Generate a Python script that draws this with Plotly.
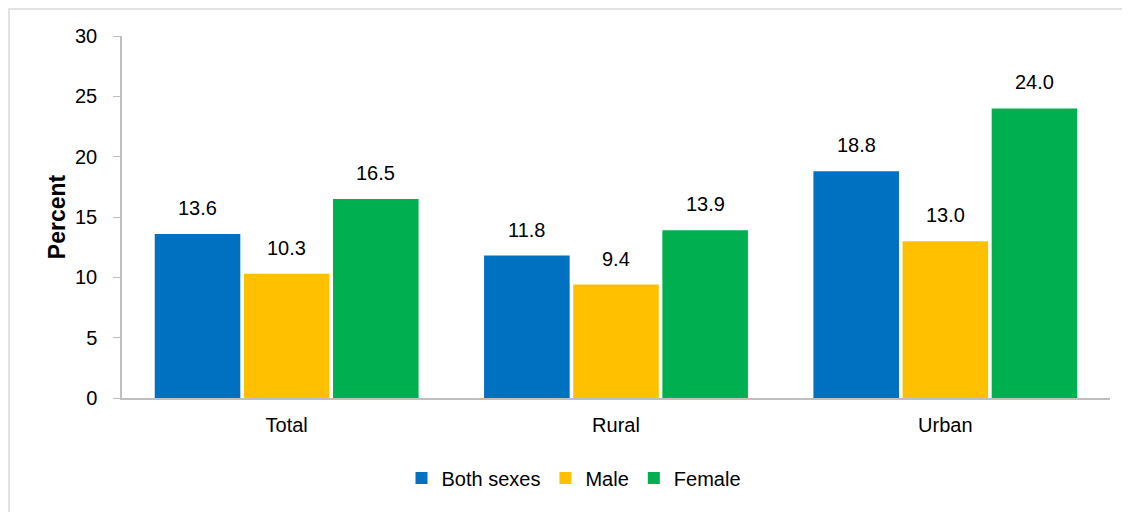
import plotly.graph_objects as go

categories = ["Total", "Rural", "Urban"]
both = [13.6, 11.8, 18.8]
male = [10.3, 9.4, 13.0]
female = [16.5, 13.9, 24.0]
series_names = ["Both sexes", "Male", "Female"]
colors = ["#0070C0", "#FFC000", "#00B050"]

FONT = "Liberation Sans, Arial, sans-serif"

W, H = 1130, 512
OFF = 8  # page body offset
# plot area in page pixels
PX0, PX1, PY0, PY1 = 122, 1110, 36, 398
L = PX0 - OFF
T = PY0 - OFF
pw = PX1 - PX0
ph = PY1 - PY0
R = W - L - pw
B = H - T - ph

BARGAP = 0.188
GROUPGAP = 0.04

def px(x):
    return (x - PX0) / pw

def py(y):
    return (PY1 - y) / ph

fig = go.Figure()
for name, vals, col in zip(series_names, [both, male, female], colors):
    fig.add_trace(go.Bar(
        x=categories, y=vals, name=name, marker_color=col,
        marker_line_width=0,
    ))

# value labels placed above bars (same x categories, shifted to each bar slot)
slot = pw / len(categories) * (1 - BARGAP) / len(series_names)
for j, vals in enumerate([both, male, female]):
    for cat, v in zip(categories, vals):
        fig.add_annotation(
            x=cat, y=v, text=f"{v:.1f}", showarrow=False,
            xshift=(j - (len(series_names) - 1) / 2) * slot,
            yanchor="bottom", yshift=13,
            font=dict(size=20, color="#000000", family=FONT),
        )

fig.add_shape(type="rect", xref="paper", yref="paper",
              x0=px(9), x1=px(1160), y0=py(540), y1=py(9),
              line=dict(color="#D9D9D9", width=1.5))

fig.update_layout(
    width=W, height=H,
    margin=dict(l=L, r=R, t=T, b=B),
    paper_bgcolor="white", plot_bgcolor="white",
    barmode="group", bargap=BARGAP, bargroupgap=GROUPGAP,
    font=dict(family=FONT, size=20, color="#000000"),
    showlegend=True,
    legend=dict(orientation="h", x=px(574), xanchor="center", y=py(478), yanchor="middle",
                font=dict(size=20, family=FONT), itemwidth=30,
                traceorder="normal"),
    xaxis=dict(showline=True, linecolor="#BFBFBF", linewidth=1.5,
               ticks="", tickfont=dict(size=20), showgrid=False,
               ticklabelstandoff=8),
    yaxis=dict(range=[0, 30], dtick=5, showline=True, linecolor="#BFBFBF", linewidth=1.5,
               ticks="outside", ticklen=7, tickcolor="#BFBFBF", showgrid=False,
               zeroline=False, tickfont=dict(size=20), ticklabelstandoff=12,
               title=dict(text="<b>Percent</b>", font=dict(size=23, family=FONT), standoff=3)),
)

fig.write_html("out.html")
